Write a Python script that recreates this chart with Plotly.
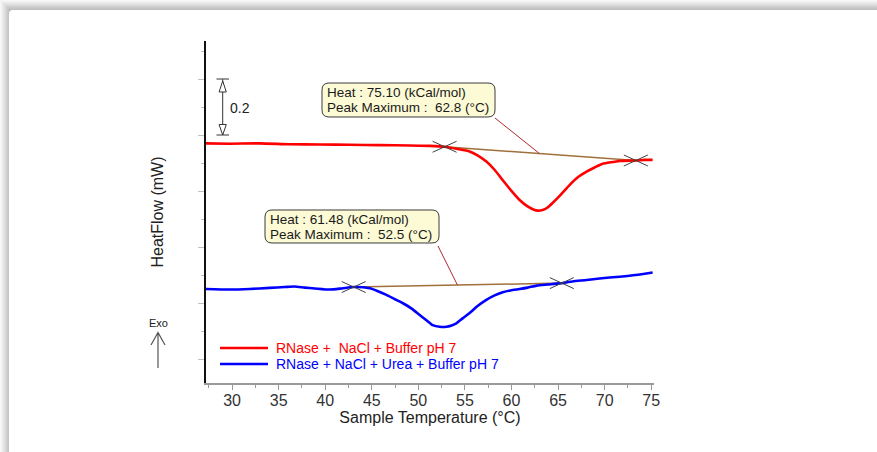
import plotly.graph_objects as go

# ---------------- data ----------------
temp_red = [27.18, 29.75, 32.97, 36.19, 39.41, 42.63, 45.85, 49.07, 51.21, 52.82, 54.2, 55.5,
            56.35, 57.3, 58.2, 59.05, 59.9, 60.87, 61.73, 62.48, 62.8, 63.34, 63.87, 64.41,
            65.27, 66.23, 67.09, 68.06, 68.92, 69.78, 70.74, 71.6, 73.43, 74.29, 75.15]
flow_red = [0.770, 0.769, 0.770, 0.767, 0.766, 0.765, 0.764, 0.7625, 0.761, 0.758, 0.750, 0.741,
            0.727, 0.705, 0.675, 0.639, 0.604, 0.568, 0.545, 0.532, 0.530, 0.532, 0.541, 0.557,
            0.586, 0.621, 0.648, 0.669, 0.684, 0.697, 0.703, 0.707, 0.709, 0.711, 0.711]

temp_blue = [27.18, 29.75, 31.9, 34.04, 35.65, 36.7, 37.8, 38.87, 40.48, 41.77, 43.06, 44.78,
             45.6, 46.57, 47.46, 48.3, 49.28, 50.14, 50.9, 51.54, 52.3, 53.0, 53.57, 54.08,
             54.75, 55.5, 56.36, 57.3, 58.19, 59.05, 59.9, 60.87, 61.73, 62.69, 63.87, 65.16,
             66.56, 68.06, 69.46, 71.6, 73.32, 75.15]
flow_blue = [0.250, 0.248, 0.250, 0.254, 0.257, 0.259, 0.255, 0.252, 0.248, 0.252, 0.257, 0.2525,
             0.243, 0.229, 0.214, 0.200, 0.180, 0.157, 0.1375, 0.121, 0.115, 0.115, 0.120, 0.1275,
             0.145, 0.164, 0.189, 0.211, 0.227, 0.238, 0.245, 0.250, 0.255, 0.262, 0.266, 0.270,
             0.277, 0.282, 0.2875, 0.294, 0.300, 0.309]

series_names = ["RNase +  NaCl + Buffer pH 7", "RNase + NaCl + Urea + Buffer pH 7"]

# integration limits (onset / end) for each peak
limits_red = [(52.82, 0.758), (73.35, 0.709)]
limits_blue = [(43.06, 0.257), (65.4, 0.271)]

heat_values = ["75.10", "61.48"]
peak_max = ["62.8", "52.5"]
leader_temp = [63.0, 54.2]

x_ticks = [30, 35, 40, 45, 50, 55, 60, 65, 70, 75]

# ---------------- layout helpers ----------------
W, H = 877, 452
L, R, T, B = 206, 654, 41, 383
XR = [27.2, 75.3]
YR = [-0.0857, 1.1357]
FONT = "Liberation Sans, Arial, sans-serif"


def pxp(x):
    return (x - L) / (R - L)


def pyp(y):
    return (B - y) / (B - T)


def px2data(x):
    return XR[0] + (x - L) / (R - L) * (XR[1] - XR[0])


def py2data(y):
    return YR[0] + (B - y) / (B - T) * (YR[1] - YR[0])


def rrect(x0, y0, x1, y1, r):
    def P(x, y):
        return f"{pxp(x):.5f},{pyp(y):.5f}"
    return (f"M {P(x0 + r, y0)} L {P(x1 - r, y0)} Q {P(x1, y0)} {P(x1, y0 + r)} "
            f"L {P(x1, y1 - r)} Q {P(x1, y1)} {P(x1 - r, y1)} L {P(x0 + r, y1)} "
            f"Q {P(x0, y1)} {P(x0, y1 - r)} L {P(x0, y0 + r)} Q {P(x0, y0)} {P(x0 + r, y0)} Z")


fig = go.Figure()

# baselines
base_col = "#a0703a"
for lim in (limits_red, limits_blue):
    fig.add_trace(go.Scatter(x=[lim[0][0], lim[1][0]], y=[lim[0][1], lim[1][1]], mode="lines",
                             line=dict(color=base_col, width=1.5), showlegend=False, hoverinfo="skip"))

fig.add_trace(go.Scatter(x=temp_red, y=flow_red, mode="lines", name=series_names[0],
                         line=dict(color="#ff0000", width=2.6, shape="spline", smoothing=0.6),
                         showlegend=False))
fig.add_trace(go.Scatter(x=temp_blue, y=flow_blue, mode="lines", name=series_names[1],
                         line=dict(color="#0000ff", width=2.6, shape="spline", smoothing=0.6),
                         showlegend=False))

# crosses at the limits
CDX = 12 / (R - L) * (XR[1] - XR[0])
CDY = 5.5 / (B - T) * (YR[1] - YR[0])
for lim in limits_red + limits_blue:
    cx, cy = lim
    fig.add_trace(go.Scatter(x=[cx - CDX, cx + CDX, None, cx - CDX, cx + CDX],
                             y=[cy - CDY, cy + CDY, None, cy + CDY, cy - CDY], mode="lines",
                             line=dict(color="#404040", width=1), showlegend=False, hoverinfo="skip"))

shapes = []
# card shadow
shade = ["#f7f7f7", "#f2f2f2", "#ececec", "#e6e6e6", "#dfdfdf", "#d8d8d8", "#d1d1d1",
         "#cacaca", "#c4c4c4", "#bfbfbf"]
for k, c in enumerate(shade):
    shapes.append(dict(type="rect", xref="paper", yref="paper", x0=pxp(k), y0=pyp(H + 50),
                       x1=pxp(W + 50), y1=pyp(k), fillcolor=c, line=dict(width=0), layer="below"))
shapes.append(dict(type="path", xref="paper", yref="paper", path=rrect(9, 10, W + 60, H + 60, 4),
                   fillcolor="white", line=dict(width=0), layer="below"))

# annotation boxes
boxes = [(322, 83, 495, 117), (265, 210, 439, 243)]
box_corner = [(495, 118), (438, 246)]
for (x0, y0, x1, y1) in boxes:
    shapes.append(dict(type="path", xref="paper", yref="paper", path=rrect(x0, y0, x1, y1, 7),
                       fillcolor="#fdfbd6", line=dict(color="#3a3a3a", width=1)))

# leader lines
for (bx, by), lt, lim in zip(box_corner, leader_temp, (limits_red, limits_blue)):
    (t0, v0), (t1, v1) = lim
    lv = v0 + (lt - t0) / (t1 - t0) * (v1 - v0)
    shapes.append(dict(type="line", xref="x", yref="y", x0=px2data(bx), y0=py2data(by),
                       x1=lt, y1=lv, line=dict(color="#b02830", width=1)))

# legend lines
legend_y = [348, 364]
for c, ly in zip(["#ff0000", "#0000ff"], legend_y):
    shapes.append(dict(type="line", xref="paper", yref="paper", x0=pxp(220), x1=pxp(268),
                       y0=pyp(ly), y1=pyp(ly), line=dict(color=c, width=2.6)))

# 0.2 scale bar
sb_x = 222.7
shapes.append(dict(type="line", xref="paper", yref="y", x0=pxp(sb_x), x1=pxp(sb_x), y0=0.8, y1=1.0,
                   line=dict(color="#333333", width=1)))
for yv in (0.8, 1.0):
    shapes.append(dict(type="line", xref="paper", yref="y", x0=pxp(216.5), x1=pxp(229), y0=yv, y1=yv,
                       line=dict(color="#555555", width=1.2)))


def tri(tip_y, base_y):
    return (f"M {pxp(sb_x):.5f},{pyp(tip_y):.5f} L {pxp(sb_x - 3.6):.5f},{pyp(base_y):.5f} "
            f"L {pxp(sb_x + 3.6):.5f},{pyp(base_y):.5f} Z")


shapes.append(dict(type="path", xref="paper", yref="paper", path=tri(81, 92),
                   fillcolor="white", line=dict(color="#333333", width=1)))
shapes.append(dict(type="path", xref="paper", yref="paper", path=tri(135, 124.5),
                   fillcolor="white", line=dict(color="#333333", width=1)))

# Exo arrow
ex = 158
shapes.append(dict(type="path", xref="paper", yref="paper",
                   path=(f"M {pxp(ex):.5f},{pyp(368):.5f} L {pxp(ex):.5f},{pyp(332.5):.5f} "
                         f"M {pxp(ex - 7):.5f},{pyp(345):.5f} L {pxp(ex):.5f},{pyp(332.5):.5f} "
                         f"L {pxp(ex + 7):.5f},{pyp(345):.5f}"),
                   line=dict(color="#555555", width=1.2)))

annotations = []
text_lines = [
    [f"Heat : {heat_values[0]} (kCal/mol)", f"Peak Maximum :  {peak_max[0]} (°C)"],
    [f"Heat : {heat_values[1]} (kCal/mol)", f"Peak Maximum :  {peak_max[1]} (°C)"],
]
for (x0, y0, x1, y1), lines in zip(boxes, text_lines):
    for i, t in enumerate(lines):
        annotations.append(dict(xref="paper", yref="paper", x=pxp(x0 + 3), y=pyp(y0 + 9.5 + 15 * i),
                                text=t, showarrow=False, xanchor="left", yanchor="middle",
                                font=dict(family=FONT, size=13.5, color="#1a1a1a")))
for name, c, ly in zip(series_names, ["#ff0000", "#0000ff"], legend_y):
    annotations.append(dict(xref="paper", yref="paper", x=pxp(274), y=pyp(ly), text=name,
                            showarrow=False, xanchor="left", yanchor="middle",
                            font=dict(family=FONT, size=14, color=c)))
annotations.append(dict(xref="paper", yref="paper", x=pxp(228), y=pyp(108), text="0.2",
                        showarrow=False, xanchor="left", yanchor="middle",
                        font=dict(family=FONT, size=14, color="#222222")))
annotations.append(dict(xref="paper", yref="paper", x=pxp(ex), y=pyp(323), text="Exo",
                        showarrow=False, xanchor="center", yanchor="middle",
                        font=dict(family=FONT, size=11, color="#222222")))

fig.update_layout(
    width=W, height=H,
    margin=dict(l=L, r=W - R, t=T, b=H - B, pad=0),
    paper_bgcolor="white", plot_bgcolor="rgba(0,0,0,0)",
    shapes=shapes, annotations=annotations, showlegend=False,
    font=dict(family=FONT, color="#222222"),
    xaxis=dict(range=XR, tickvals=x_ticks, ticks="outside", ticklen=5, tickcolor="#999999",
               showline=True, linecolor="#999999", linewidth=1.5, showgrid=False, zeroline=False,
               minor=dict(dtick=2.5, tick0=0, ticks="outside", ticklen=3, tickcolor="#999999"),
               tickfont=dict(family=FONT, size=16, color="#333333"), ticklabelstandoff=-3,
               title=dict(text="Sample Temperature (°C)", font=dict(family=FONT, size=16, color="#222222"),
                          standoff=0)),
    yaxis=dict(range=YR, tick0=0, dtick=0.2, ticks="outside", ticklen=6, tickcolor="#c0c0c0",
               showticklabels=False, showline=True, linecolor="#111111", linewidth=1.5,
               showgrid=False, zeroline=False,
               minor=dict(dtick=0.1, tick0=0, ticks="outside", ticklen=3, tickcolor="#c0c0c0"),
               title=dict(text="HeatFlow (mW)", font=dict(family=FONT, size=16, color="#222222"),
                          standoff=31)),
)

fig.write_html("out.html", config={"displayModeBar": False},
               post_script="document.body.style.margin='0';")
